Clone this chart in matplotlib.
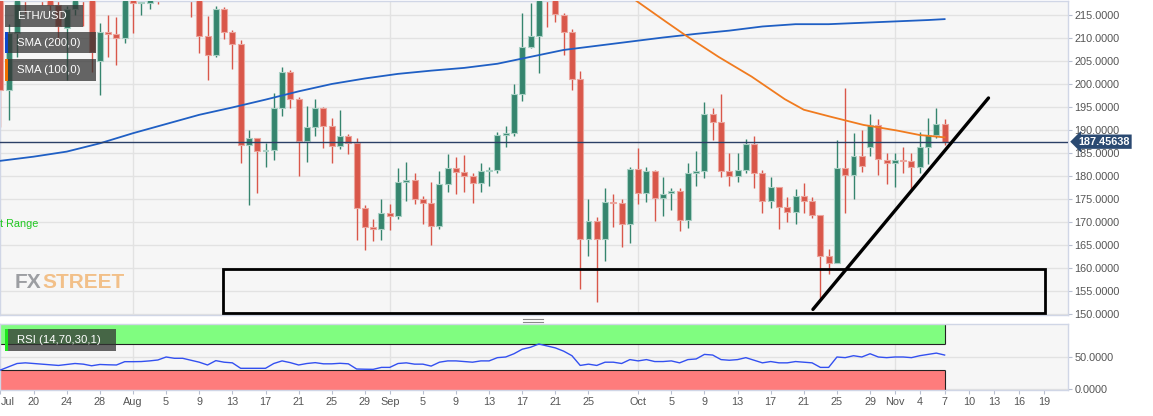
import numpy as np
import pandas as pd
import matplotlib
matplotlib.use("Agg")
import matplotlib.pyplot as plt
from matplotlib.patches import Rectangle
from matplotlib.lines import Line2D
from matplotlib.transforms import blended_transform_factory

plt.rcParams['font.family'] = ['Liberation Sans', 'DejaVu Sans']

# ETH/USD daily candles, 16 Jul 2019 -> 7 Nov 2019
start = pd.Timestamp("2019-07-16")
opens = [228.0, 198.7, 211.0, 226.0, 220.3, 227.7, 225.9, 217.2, 212.1, 216.4,
         220.5, 219.0, 204.9, 211.2, 210.8, 209.9, 218.6, 217.5, 217.7, 222.2,
         222.1, 233.0, 226.0, 226.7, 219.7, 210.4, 206.3, 216.4, 211.4, 208.8,
         186.7, 188.3, 185.4, 185.7, 194.7, 202.5, 196.7, 187.5, 190.6, 194.7,
         190.9, 186.5, 188.6, 187.1, 173.0, 169.0, 168.5, 172.0, 171.4, 178.8,
         179.1, 175.0, 174.2, 169.2, 178.3, 181.7, 180.8, 180.0, 178.4, 181.1,
         181.4, 188.9, 189.4, 197.8, 208.1, 210.4, 222.0, 219.0, 215.0, 211.2,
         201.1, 166.4, 170.3, 166.2, 174.4, 174.1, 169.6, 181.5, 176.4, 181.0,
         175.3, 176.2, 176.7, 170.4, 180.6, 181.1, 193.4, 191.8, 181.0, 180.0,
         181.3, 187.0, 180.7, 174.6, 177.5, 173.3, 172.2, 175.7, 174.6, 171.5,
         162.6, 161.0, 181.8, 180.2, 184.4, 186.2, 191.1, 183.5, 182.8, 183.4,
         183.3, 181.9, 186.4, 188.9, 191.2]
highs = [229.5, 213.0, 228.0, 227.5, 229.0, 229.0, 227.0, 219.0, 217.0, 222.0,
         222.0, 220.0, 213.3, 215.0, 214.5, 221.0, 219.5, 219.5, 223.0, 224.0,
         236.0, 237.0, 228.0, 227.5, 220.5, 214.8, 217.0, 216.8, 211.8, 209.6,
         190.0, 188.3, 187.1, 198.1, 203.8, 203.1, 197.2, 195.2, 196.7, 194.9,
         192.7, 194.3, 189.1, 188.2, 173.7, 170.6, 175.1, 173.9, 181.7, 183.0,
         180.6, 175.7, 178.6, 181.1, 184.8, 184.2, 184.6, 180.6, 182.8, 182.0,
         189.6, 190.9, 199.9, 215.4, 217.5, 223.5, 224.0, 220.0, 215.5, 211.9,
         202.8, 175.1, 171.0, 177.3, 176.1, 175.1, 182.0, 186.0, 181.9, 181.4,
         179.7, 177.3, 177.3, 182.8, 185.4, 196.0, 194.8, 197.8, 184.9, 184.9,
         188.0, 188.7, 181.4, 179.7, 177.7, 175.4, 177.1, 178.5, 175.5, 171.6,
         164.1, 187.8, 199.1, 189.3, 190.1, 193.4, 192.4, 184.9, 184.9, 186.3,
         185.0, 189.6, 192.5, 194.7, 192.3]
lows = [190.7, 192.2, 205.9, 215.5, 218.5, 217.2, 216.0, 209.6, 200.9, 215.0,
        212.5, 202.7, 197.6, 205.9, 204.1, 209.0, 211.0, 215.0, 216.2, 217.4,
        220.0, 222.0, 219.0, 214.6, 206.7, 200.9, 205.9, 209.7, 203.2, 182.8,
        173.7, 176.2, 182.0, 183.5, 193.0, 194.7, 180.0, 183.0, 188.6, 186.0,
        182.9, 185.8, 184.7, 166.1, 163.9, 165.9, 166.1, 168.3, 170.6, 174.6,
        173.9, 169.5, 165.1, 168.4, 176.6, 176.1, 176.6, 174.2, 176.6, 177.8,
        180.6, 186.4, 188.7, 196.2, 207.8, 202.3, 212.3, 213.5, 206.3, 198.7,
        155.5, 162.5, 152.5, 161.5, 169.0, 164.5, 165.4, 173.9, 174.4, 170.2,
        171.3, 172.6, 168.1, 168.8, 177.8, 179.6, 187.8, 179.7, 177.8, 178.8,
        180.7, 177.3, 171.9, 173.0, 168.4, 170.1, 169.5, 172.0, 170.8, 153.4,
        158.8, 161.0, 171.9, 174.9, 180.9, 184.3, 180.2, 178.3, 177.6, 180.7,
        177.1, 180.6, 182.5, 188.2, 186.7]
closes = [198.7, 211.0, 226.0, 220.3, 227.7, 225.9, 217.2, 212.5, 216.4, 219.5,
          219.0, 207.0, 211.2, 210.8, 209.9, 218.6, 217.5, 217.7, 222.2, 222.1,
          233.0, 226.0, 226.7, 219.7, 210.4, 206.3, 216.4, 211.4, 208.8, 186.7,
          188.3, 185.4, 185.7, 194.7, 202.5, 196.7, 187.5, 190.6, 194.7, 190.9,
          186.5, 188.6, 187.1, 173.0, 169.0, 168.5, 172.0, 171.4, 178.8, 179.1,
          175.0, 174.2, 169.2, 178.3, 181.7, 180.8, 180.0, 178.4, 181.1, 181.4,
          188.9, 189.4, 197.8, 208.1, 210.4, 222.0, 219.0, 215.2, 211.2, 201.1,
          166.4, 170.3, 166.2, 174.4, 174.1, 169.6, 181.5, 176.4, 181.0, 175.3,
          176.0, 176.7, 170.4, 180.6, 181.1, 193.4, 191.8, 181.0, 180.0, 181.3,
          187.0, 180.7, 174.6, 177.5, 173.2, 172.2, 175.7, 174.6, 171.5, 162.6,
          161.0, 181.8, 180.2, 184.4, 182.2, 191.1, 183.6, 182.8, 183.4, 183.3,
          181.9, 186.4, 188.9, 191.2, 187.45638]
last_price = 187.45638

# moving averages (day offset, value)
sma200_days = [0, 4, 8, 12, 16, 20, 24, 28, 32, 36, 40, 44, 48, 52, 56, 60, 64,
               68, 72, 76, 80, 84, 88, 92, 96, 100, 104, 108, 112, 114]
sma200_vals = [183.3, 184.2, 185.3, 187.1, 189.3, 191.3, 193.3, 194.9, 196.6,
               198.4, 200.0, 201.2, 202.2, 202.9, 203.5, 204.4, 205.9, 207.4,
               208.3, 209.2, 210.1, 210.9, 211.6, 212.5, 213.0, 213.0, 213.3,
               213.6, 213.9, 214.1]
sma100_days = [74, 76.6, 80.3, 82.7, 86.7, 90.7, 94.7, 97, 100.2, 104.2, 108.2,
               111, 114]
sma100_vals = [221.6, 218.3, 213.6, 210.6, 205.9, 201.6, 196.7, 194.4, 192.9,
               191.1, 189.9, 188.9, 188.4]

# RSI (14) per day
rsi = [30, 35, 40, 41, 40, 39, 38, 37, 38.5, 40, 39, 36.5, 38.5, 38, 37.7, 42.8,
       42.8, 43, 44, 45.4, 50, 48, 48, 45, 42, 37.7, 44.4, 42, 41, 32.6, 32.6,
       32.6, 32.6, 40, 44, 41.3, 37.7, 40, 41.3, 39.5, 39.5, 40.3, 39.5, 31.5,
       31.2, 31, 34, 34, 40, 41, 39, 39, 36, 42, 44, 44, 43, 42, 44, 44, 49, 50,
       55, 62, 65, 70, 67, 64, 59, 52, 37, 39, 37, 42, 42, 40, 46, 44, 46, 43,
       43, 44, 41, 46, 47, 54, 53, 46, 45, 46, 49, 45, 41, 43, 41, 41, 43, 42,
       41, 34, 34, 50, 49, 52, 50, 55, 50, 49, 50, 50, 49, 52, 54, 56, 53]

# drawn objects: support box and rising trend line
box_x = [26.9, 126.1]
box_y = [150.15, 159.8]
trend_x = [98.1, 119.3]
trend_y = [151.0, 196.96]

tick_dates = ["2019-07-16", "2019-07-20", "2019-07-24", "2019-07-28", "2019-08-01",
              "2019-08-05", "2019-08-09", "2019-08-13", "2019-08-17", "2019-08-21",
              "2019-08-25", "2019-08-29", "2019-09-01", "2019-09-05", "2019-09-09",
              "2019-09-13", "2019-09-17", "2019-09-21", "2019-09-25", "2019-10-01",
              "2019-10-05", "2019-10-09", "2019-10-13", "2019-10-17", "2019-10-21",
              "2019-10-25", "2019-10-29", "2019-11-01", "2019-11-04", "2019-11-07",
              "2019-11-10", "2019-11-13", "2019-11-16", "2019-11-19"]
tick_labels = ["Jul", "20", "24", "28", "Aug", "5", "9", "13", "17", "21", "25", "29",
               "Sep", "5", "9", "13", "17", "21", "25", "Oct", "5", "9", "13", "17",
               "21", "25", "29", "Nov", "4", "7", "10", "13", "16", "19"]
month_dates = ["2019-08-01", "2019-09-01", "2019-10-01", "2019-11-01"]

W, H = 1153, 416
fig = plt.figure(figsize=(W / 100, H / 100), dpi=100)
fig.patch.set_facecolor("white")

ax = fig.add_axes([0, 1 - 315 / H, 1068 / W, 314 / H])
ax2 = fig.add_axes([0, 1 - 390 / H, 1068 / W, 66 / H])

tick_days = (pd.to_datetime(tick_dates) - start).days
month_days = (pd.to_datetime(month_dates) - start).days

for a in (ax, ax2):
    a.set_facecolor("#f6f6f6")
    for s in a.spines.values():
        s.set_color("#d0d6e6")
        s.set_linewidth(1)
    a.set_xlim(-0.06, 128.9)
    for d in month_days:
        a.axvline(d, color="#e2e2e2", lw=1, zorder=0)
    a.yaxis.tick_right()
    a.tick_params(axis="y", length=3, color="#b8bfd0", labelsize=7.8,
                  labelcolor="#555555", pad=1.5)

# candles
o = np.array(opens)
c = np.array(closes)
x = np.arange(len(o))
up = c >= o
body_col = np.where(up, "#35856e", "#d9574a")
edge_col = np.where(up, "#a9d0c4", "#eba59d")
ax.vlines(x, lows, highs, colors=body_col, lw=1, zorder=2)
body_h = np.maximum(np.abs(c - o), 0.25)
ax.bar(x, body_h, bottom=np.minimum(o, c), width=0.72, color=body_col,
       edgecolor=edge_col, linewidth=0.8, zorder=3)

ax.plot(sma200_days, sma200_vals, color="#1f5fc4", lw=1.3, zorder=4)
ax.plot(sma100_days, sma100_vals, color="#f07b1f", lw=1.3, zorder=4)
ax.axhline(last_price, color="#2b3f66", lw=1, zorder=4)

ax.add_patch(Rectangle((box_x[0], box_y[0]), box_x[1] - box_x[0], box_y[1] - box_y[0],
                       fill=False, edgecolor="black", lw=2, zorder=5))
ax.plot(trend_x, trend_y, color="black", lw=2.4, zorder=5, solid_capstyle="round")

ax.set_ylim(149.78, 218.04)
ax.set_yticks(np.arange(150, 216, 5))
ax.yaxis.set_major_formatter(matplotlib.ticker.FormatStrFormatter("%.4f"))
ax.grid(axis="y", color="#e2e2e2", lw=1)
ax.set_axisbelow(True)
ax.set_xticks([])

tr = blended_transform_factory(ax.transAxes, ax.transData)
ax.text(1 + 10 / 1068, last_price, "187.45638", transform=tr, ha="left", va="center",
        color="white", fontsize=7.8, fontweight="bold", clip_on=False, zorder=10,
        bbox=dict(boxstyle="larrow,pad=0.2", fc="#2b4a72", ec="none"))

# RSI panel
last = len(rsi) - 1
ax2.set_ylim(-0.8, 100.8)
ax2.add_patch(Rectangle((-0.5, 70), last + 0.5, 31, facecolor="#80fd80",
                        edgecolor="none", zorder=1))
ax2.add_patch(Rectangle((-0.5, -1), last + 0.5, 31, facecolor="#fe7c7c",
                        edgecolor="none", zorder=1))
ax2.hlines([70, 30], -0.5, last, color="#222222", lw=0.8, zorder=2)
ax2.vlines(last, -1, 30, color="#222222", lw=0.8, zorder=2)
ax2.vlines(last, 70, 101, color="#222222", lw=0.8, zorder=2)
ax2.plot(np.arange(len(rsi)), rsi, color="#3350f0", lw=1, zorder=3)
ax2.set_yticks([0, 50])
ax2.yaxis.set_major_formatter(matplotlib.ticker.FormatStrFormatter("%.4f"))
ax2.grid(axis="y", color="#e2e2e2", lw=1)
ax2.set_axisbelow(True)
ax2.set_xticks(tick_days)
ax2.set_xticklabels(tick_labels)
ax2.tick_params(axis="x", length=3, color="#b8bfd0", labelsize=7.8,
                labelcolor="#555555", pad=2)
ax2.get_xticklabels()[0].set_ha("left")


def px_box(x0, y0, x1, y1, text, strip=None, fs=8.2):
    fig.add_artist(Rectangle((x0 / W, 1 - y1 / H), (x1 - x0) / W, (y1 - y0) / H,
                             transform=fig.transFigure, facecolor="#333333",
                             alpha=0.75, edgecolor="none", zorder=20))
    if strip:
        fig.add_artist(Rectangle((x0 / W, 1 - y1 / H), 3 / W, (y1 - y0) / H,
                                 transform=fig.transFigure, facecolor=strip,
                                 edgecolor="none", zorder=21))
    fig.text((x0 + 12) / W, 1 - (y0 + y1) / 2 / H, text, color="white",
             fontsize=fs, va="center", ha="left", zorder=22)


px_box(5, 5, 83, 27, "ETH/USD")
px_box(5, 32, 96, 53, "SMA (200,0)", "#0d47c8")
px_box(5, 59, 96, 81, "SMA (100,0)", "#f07000")
px_box(5, 329, 116, 351, "RSI (14,70,30,1)", "#1de61d")

fig.text(0, 1 - 224 / H, "t Range", color="#21c821", fontsize=7.8, va="center",
         ha="left")
# watermark
fig.text(15 / W, 1 - 283 / H, "FX", color="#9c9ea2", fontsize=15, fontweight="bold",
         va="center", ha="left")
fig.text(42 / W, 1 - 283 / H, "STREET", color="#f2c089", fontsize=15,
         fontweight="bold", va="center", ha="left")

# panel drag handle
for yy in (319, 321.5):
    fig.add_artist(Line2D([523 / W, 543 / W], [1 - yy / H, 1 - yy / H],
                          transform=fig.transFigure, color="#8a8a8a", lw=0.8))

fig.savefig("out.png", dpi=100)
